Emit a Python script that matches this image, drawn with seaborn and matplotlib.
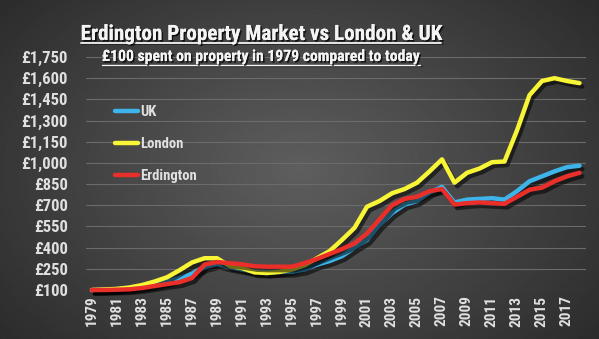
import matplotlib
matplotlib.use("Agg")
import numpy as np
import pandas as pd
import seaborn as sns
import matplotlib.pyplot as plt
from matplotlib import font_manager
from matplotlib import patheffects as pe
from matplotlib.lines import Line2D

# ---------------- data ----------------
years = list(range(1979, 2019))
uk = [100, 102, 106, 112, 122, 138, 158, 185, 215, 262,
      284, 262, 245, 230, 225, 228, 228, 245, 280, 305,
      340, 400, 455, 560, 645, 705, 730, 790, 830, 720,
      740, 745, 750, 740, 800, 870, 905, 940, 970, 980]
london = [100, 104, 108, 118, 135, 160, 190, 240, 295, 325,
          325, 270, 255, 225, 220, 228, 245, 275, 325, 375,
          455, 540, 690, 730, 785, 815, 860, 940, 1025, 860,
          930, 960, 1005, 1010, 1230, 1480, 1580, 1600, 1580, 1565]
erdington = [100, 100, 102, 105, 114, 128, 142, 155, 185, 280,
             298, 290, 282, 268, 265, 265, 265, 290, 320, 355,
             390, 430, 500, 600, 700, 745, 760, 800, 815, 705,
             715, 720, 715, 710, 760, 810, 825, 870, 905, 930]
series_names = ["UK", "London", "Erdington"]
series_colors = ["#3db5ea", "#f7f535", "#ea2e29"]
xtick_years = list(range(1979, 2018, 2))
ytick_values = list(range(100, 1751, 150))
title = "Erdington Property Market vs London & UK"
subtitle = "\u00a3100 spent on property in 1979 compared to today"

df = pd.DataFrame({
    "Year": years * 3,
    "Value": uk + london + erdington,
    "Series": ["UK"] * len(years) + ["London"] * len(years) + ["Erdington"] * len(years),
})

# ---------------- fonts ----------------
def pick_font(cands):
    for c in cands:
        try:
            font_manager.findfont(font_manager.FontProperties(family=c, weight="bold"),
                                  fallback_to_default=False)
            return c
        except Exception:
            pass
    return "DejaVu Sans"

sns.set_theme(style="dark")
FONT = pick_font(["DejaVu Sans Condensed", "Liberation Sans Narrow", "Roboto Condensed",
                  "Open Sans Condensed", "Noto Sans Condensed", "DejaVu Sans"])
plt.rcParams["font.family"] = [FONT, "DejaVu Sans"]

W, H = 599, 339
fig = plt.figure(figsize=(W / 100, H / 100), dpi=100)

# background radial gradient
bg = fig.add_axes([0, 0, 1, 1], zorder=-10)
yy, xx = np.mgrid[0:1:340j, 0:1:600j]
r = np.sqrt(((xx - 0.5) / 0.62) ** 2 + ((yy - 0.5) / 0.75) ** 2)
val = np.clip(0.37 - 0.19 * r, 0.12, 0.4)
bg.imshow(val, cmap="gray", vmin=0, vmax=1, aspect="auto", extent=[0, 1, 0, 1])
bg.axis("off")

# main axes
left = 85.75 / W
bottom = 1 - 290 / H
ax = fig.add_axes([left, bottom, 500 / W, (290 - 57) / H])
ax.patch.set_alpha(0)

sns.lineplot(data=df, x="Year", y="Value", hue="Series", hue_order=series_names,
             palette=dict(zip(series_names, series_colors)), linewidth=3.2,
             ax=ax, legend=False)
for ln in ax.lines:
    ln.set_clip_on(False)
    ln.set_solid_capstyle("round")
    ln.set_path_effects([pe.SimpleLineShadow(offset=(2, -2.5), shadow_color="black", alpha=0.55),
                         pe.Normal()])

ax.set_xlim(1978.5, 2018.5)
ax.set_ylim(100, 1750)
ax.set_xticks(xtick_years)
ax.set_xticklabels([str(y) for y in xtick_years], rotation=90, color="#e0e0e0",
                   fontsize=11, fontweight="bold")
ax.set_yticks(ytick_values)
ax.set_yticklabels(["\u00a3{:,}".format(v) for v in ytick_values], color="#e0e0e0",
                   fontsize=12, fontweight="bold")
ax.tick_params(axis="both", length=0)
ax.tick_params(axis="y", pad=13)
ax.tick_params(axis="x", pad=4)
ax.set_xlabel("")
ax.set_ylabel("")
for s in ax.spines.values():
    s.set_visible(False)
ax.yaxis.grid(True, color="#6b6b6b", linewidth=0.8)
ax.xaxis.grid(False)
ax.set_axisbelow(True)

# legend
handles = [Line2D([0], [0], color=c, lw=3.2) for c in series_colors]
leg = ax.legend(handles, series_names, loc="upper left",
                bbox_to_anchor=(115 / W, 1 - 105 / H), bbox_transform=fig.transFigure,
                frameon=False, fontsize=10.5, handlelength=1.55, handletextpad=0.15,
                labelspacing=1.25, borderpad=0, borderaxespad=0)
for t in leg.get_texts():
    t.set_color("#e0e0e0")
    t.set_fontweight("bold")

# titles
shadow = [pe.withSimplePatchShadow(offset=(1.2, -1.2), shadow_rgbFace="black", alpha=0.7), pe.Normal()]
t1 = fig.text(261 / W, 1 - 40 / H, title, ha="center", va="baseline", color="#f4f4f4",
              fontsize=15, fontweight="bold", path_effects=shadow)
t2 = fig.text(261 / W, 1 - 61 / H, subtitle, ha="center", va="baseline", color="#f4f4f4",
              fontsize=11, fontweight="bold", path_effects=shadow)

fig.canvas.draw()
renderer = fig.canvas.get_renderer()

def fit(t, target_px):
    w = t.get_window_extent(renderer).width
    t.set_fontsize(t.get_fontsize() * target_px / w)

fit(t1, 362)
fit(t2, 316)
fig.canvas.draw()

def underline(t, y_px, lw):
    bb = t.get_window_extent(renderer)
    y = 1 - y_px / H
    fig.add_artist(Line2D([bb.x0 / W, bb.x1 / W], [y, y], transform=fig.transFigure,
                          color="#f4f4f4", lw=lw,
                          path_effects=[pe.SimpleLineShadow(offset=(1, -1), alpha=0.7), pe.Normal()]))

underline(t1, 42.5, 1.3)
underline(t2, 64.5, 1.0)

fig.savefig("out.png", dpi=100)
